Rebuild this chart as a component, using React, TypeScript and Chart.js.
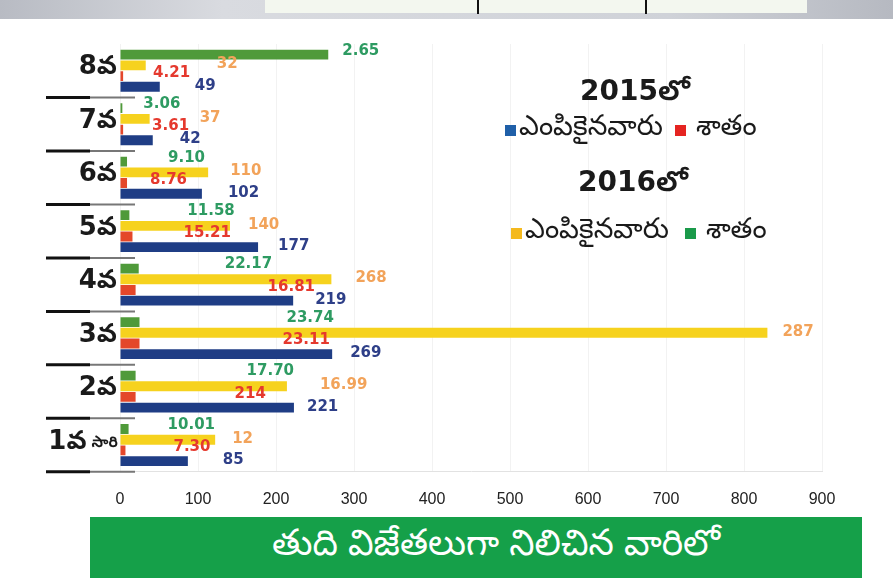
import { useEffect, useRef } from 'react';
import { Chart, registerables } from 'chart.js';

Chart.register(...registerables);

// ---- data ----
const categories = ['8వ', '7వ', '6వ', '5వ', '4వ', '3వ', '2వ', '1వ'];
const categorySuffix = ['', '', '', '', '', '', '', 'సారి'];
const xTicks = [0, 100, 200, 300, 400, 500, 600, 700, 800, 900];

// bar lengths as drawn in the picture (axis units)
const percent2016 = [267, 3, 9, 12, 24, 25, 20, 11];
const selected2016 = [33, 38, 113, 141, 271, 830, 214, 122];
const percent2015 = [4, 4, 9, 16, 20, 25, 20, 7];
const selected2015 = [51, 42, 105, 177, 222, 272, 223, 87];

// printed value labels
const percent2016Labels = ['2.65', '3.06', '9.10', '11.58', '22.17', '23.74', '17.70', '10.01'];
const selected2016Labels = ['32', '37', '110', '140', '268', '287', '16.99', '12'];
const percent2015Labels = ['4.21', '3.61', '8.76', '15.21', '16.81', '23.11', '214', '7.30'];
const selected2015Labels = ['49', '42', '102', '177', '219', '269', '221', '85'];

const legendTitle2015 = '2015లో';
const legendTitle2016 = '2016లో';
const legendSelected = 'ఎంపికైనవారు';
const legendPercent = 'శాతం';
const bannerText = 'తుది విజేతలుగా నిలిచిన వారిలో';

// ---- styles / layout ----
const GREEN = '#4f9a3a';
const YELLOW = '#f6d21e';
const RED = '#e4472a';
const BLUE = '#1f3d85';
const LABEL_COLORS = ['#2e9b62', '#f2a35a', '#e5392e', '#2e3f88'];
// label nudges (px) from each bar end, per dataset
const LABEL_DX = [
  [14, 21, 41, 58, 86, 147, 111, 39],
  [71, 50, 22, 18, 24, 15, 33, 17],
  [30, 29, 23, 51, 132, 143, 99, 48],
  [35, 27, 26, 20, 22, 18, 13, 35],
];
const LABEL_DY = [-4, -1, -3, -1];
const TELUGU = '"Noto Sans Telugu", "Lohit Telugu", "Gurajada", "DejaVu Sans", sans-serif';
const NUM_FONT = '"DejaVu Sans", "Noto Sans Telugu", sans-serif';

const overlayPlugin = {
  id: 'overlay',
  afterDatasetsDraw(chart: any) {
    const ctx = chart.ctx;
    ctx.save();
    ctx.textBaseline = 'middle';
    ctx.textAlign = 'left';
    ctx.font = `bold 15px ${NUM_FONT}`;
    chart.data.datasets.forEach((ds: any, di: number) => {
      const meta = chart.getDatasetMeta(di);
      ctx.fillStyle = LABEL_COLORS[di];
      meta.data.forEach((bar: any, i: number) => {
        ctx.fillText(ds.valueLabels[i], bar.x + LABEL_DX[di][i], bar.y + LABEL_DY[di]);
      });
    });

    const yScale = chart.scales.y;
    const band = yScale.getPixelForValue(1) - yScale.getPixelForValue(0);
    categories.forEach((c, i) => {
      const cy = yScale.getPixelForValue(i);
      // separator line
      const sy = cy + band / 2;
      ctx.lineCap = 'butt';
      ctx.strokeStyle = '#111';
      ctx.lineWidth = 3;
      ctx.beginPath();
      ctx.moveTo(46, sy);
      ctx.lineTo(90, sy);
      ctx.stroke();
      ctx.strokeStyle = '#777';
      ctx.lineWidth = 2;
      ctx.beginPath();
      ctx.moveTo(90, sy);
      ctx.lineTo(135, sy);
      ctx.stroke();
      // category label
      ctx.fillStyle = '#1a1a1a';
      ctx.textAlign = 'right';
      let right = 117;
      if (categorySuffix[i]) {
        ctx.font = `bold 15px ${TELUGU}`;
        ctx.fillText(categorySuffix[i], 118, cy);
        right = 118 - ctx.measureText(categorySuffix[i]).width - 5;
      }
      ctx.font = `bold 26px ${NUM_FONT}`;
      ctx.fillText(c, right, cy - 3);
    });
    ctx.restore();
  },
};

export default function App() {
  const ref = useRef<HTMLCanvasElement | null>(null);

  useEffect(() => {
    document.body.style.margin = '0';
    if (!ref.current) return;
    const chart = new Chart(ref.current, {
      type: 'bar',
      data: {
        labels: categories,
        datasets: [
          { label: '2016 %', data: percent2016, backgroundColor: GREEN, valueLabels: percent2016Labels } as any,
          { label: '2016', data: selected2016, backgroundColor: YELLOW, valueLabels: selected2016Labels } as any,
          { label: '2015 %', data: percent2015, backgroundColor: RED, valueLabels: percent2015Labels } as any,
          { label: '2015', data: selected2015, backgroundColor: BLUE, valueLabels: selected2015Labels } as any,
        ],
      },
      options: {
        indexAxis: 'y',
        responsive: false,
        animation: false,
        layout: { padding: { left: 120, right: 71, top: 44, bottom: 55 } },
        datasets: { bar: { categoryPercentage: 0.8, barPercentage: 0.92 } },
        plugins: { legend: { display: false }, tooltip: { enabled: false } },
        scales: {
          x: {
            min: 0,
            max: 900,
            afterBuildTicks: (scale: any) => {
              scale.ticks = xTicks.map((v) => ({ value: v }));
            },
            ticks: {
              padding: 18,
              color: '#222',
              font: { family: '"Liberation Sans Narrow", "Liberation Sans", Arial', size: 16 },
            },
            grid: { color: 'rgba(0,0,0,0.05)', drawTicks: false },
            border: { display: true, color: '#e2e2e2' },
          },
          y: { display: false },
        },
      },
      plugins: [overlayPlugin],
    } as any);
    return () => chart.destroy();
  }, []);

  const sq = (color: string, gap: number) => (
    <span style={{ display: 'inline-block', width: 11, height: 11, background: color, marginRight: gap, verticalAlign: 'middle' }} />
  );

  return (
    <div style={{ position: 'relative', width: 893, height: 582, background: '#fff', overflow: 'hidden' }}>
      <div style={{ position: 'absolute', left: 0, top: 0, width: 893, height: 19, background: 'linear-gradient(to right, #b8bbc3, #d9dbe0 25%, #cfd2d8 75%, #b6b9c1)' }} />
      <div style={{ position: 'absolute', left: 265, top: 0, width: 542, height: 13, background: '#f3f7ef' }} />
      <div style={{ position: 'absolute', left: 477, top: 0, width: 2, height: 14, background: '#111' }} />
      <div style={{ position: 'absolute', left: 645, top: 0, width: 2, height: 14, background: '#111' }} />
      <canvas ref={ref} width={893} height={582} style={{ position: 'absolute', left: 0, top: 0, width: 893, height: 582 }} />
      <div style={{ position: 'absolute', left: 560, top: 74, width: 150, textAlign: 'center', font: `bold 28px ${NUM_FONT}`, color: '#1a1a1a' }}>{legendTitle2015}</div>
      <div style={{ position: 'absolute', left: 505, top: 111, whiteSpace: 'nowrap', font: `28px ${TELUGU}`, color: '#1a1a1a' }}>
        {sq('#1f5fa8', 3)}<span style={{ verticalAlign: 'middle' }}>{legendSelected}</span>
        <span style={{ display: 'inline-block', width: 12 }} />
        {sq('#e52421', 10)}<span style={{ verticalAlign: 'middle' }}>{legendPercent}</span>
      </div>
      <div style={{ position: 'absolute', left: 558, top: 165, width: 150, textAlign: 'center', font: `bold 28px ${NUM_FONT}`, color: '#1a1a1a' }}>{legendTitle2016}</div>
      <div style={{ position: 'absolute', left: 511, top: 214, whiteSpace: 'nowrap', font: `28px ${TELUGU}`, color: '#1a1a1a' }}>
        {sq('#f4b91e', 3)}<span style={{ verticalAlign: 'middle' }}>{legendSelected}</span>
        <span style={{ display: 'inline-block', width: 16 }} />
        {sq('#1a9a4a', 10)}<span style={{ verticalAlign: 'middle' }}>{legendPercent}</span>
      </div>
      <div style={{ position: 'absolute', left: 90, top: 517, width: 772, height: 61, background: '#15a049', display: 'flex', alignItems: 'center', justifyContent: 'center', paddingLeft: 40, boxSizing: 'border-box', color: '#fff', font: `36px ${TELUGU}` }}>
        {bannerText}
      </div>
    </div>
  );
}
